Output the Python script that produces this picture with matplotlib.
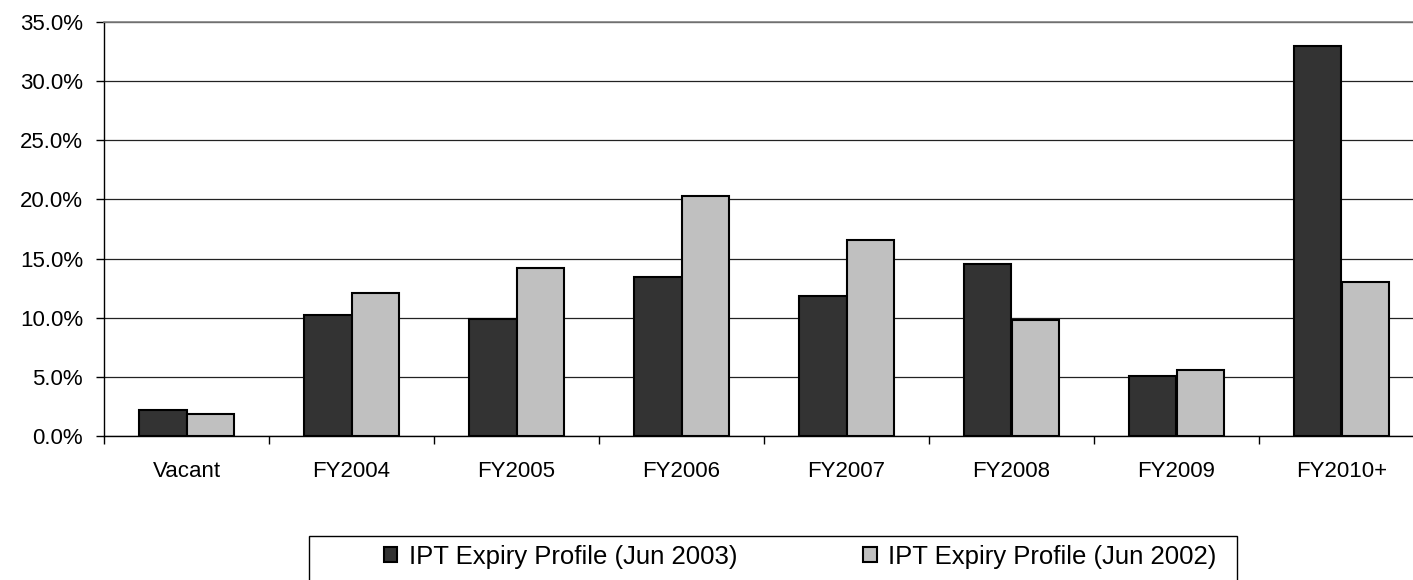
import numpy as np
import matplotlib.pyplot as plt
from matplotlib.patches import Rectangle
from matplotlib.ticker import FuncFormatter

plt.rcParams['font.family'] = ['Liberation Sans', 'DejaVu Sans']

# Lease expiry profile, % of portfolio
categories = ['Vacant', 'FY2004', 'FY2005', 'FY2006', 'FY2007', 'FY2008', 'FY2009', 'FY2010+']
jun_2003 = [2.2, 10.2, 9.9, 13.4, 11.8, 14.5, 5.1, 33.0]
jun_2002 = [1.9, 12.1, 14.2, 20.3, 16.6, 9.8, 5.6, 13.0]
series_names = ['IPT Expiry Profile (Jun 2003)', 'IPT Expiry Profile (Jun 2002)']

W, H = 1413, 580
fs = 16
fig = plt.figure(figsize=(W / 100, H / 100), dpi=100)
# plot area runs a little past the right edge of the canvas
ax = fig.add_axes([104 / W, 1 - 436 / H, (1424 - 104) / W, (436 - 22) / H])

x = np.arange(len(categories))
bw = 1 / 3.5  # excel style: 150% gap width
ax.bar(x - bw / 2, jun_2003, bw, color='#333333', edgecolor='black', linewidth=1.5,
       label=series_names[0], zorder=3)
ax.bar(x + bw / 2, jun_2002, bw, color='#C0C0C0', edgecolor='black', linewidth=1.5,
       label=series_names[1], zorder=3)

ax.set_xlim(-0.5, len(categories) - 0.5)
ax.set_ylim(0, 35)
ax.set_yticks(np.arange(0, 36, 5))
ax.yaxis.set_major_formatter(FuncFormatter(lambda v, p: f'{v:.1f}%'))
ax.grid(axis='y', color='#222222', linewidth=0.9, zorder=0)

ax.set_xticks(x)
ax.set_xticklabels(categories)
ax.set_xticks(np.arange(-0.5, len(categories)), minor=True)
ax.tick_params(axis='x', which='major', length=0, pad=18, labelsize=fs)
ax.tick_params(axis='x', which='minor', length=6, width=1, color='black')
ax.tick_params(axis='y', length=6, width=1, pad=9, labelsize=fs)

for side in ['left', 'bottom']:
    ax.spines[side].set_color('black')
    ax.spines[side].set_linewidth(1)
for side in ['top', 'right']:
    ax.spines[side].set_color('#808080')
    ax.spines[side].set_linewidth(1.2)

# legend box below the chart
fig.patches.append(Rectangle((309 / W, 1 - 600 / H), (1237 - 309) / W, (600 - 536) / H,
                             transform=fig.transFigure, facecolor='white',
                             edgecolor='black', linewidth=1))
fig.legend(loc='center left', bbox_to_anchor=(371 / W, 1 - 557 / H), ncol=2, frameon=False,
           fontsize=18.5, borderpad=0, handlelength=0.52, handleheight=0.52,
           handletextpad=0.45, columnspacing=4.9)

fig.savefig('out.png', dpi=100)
